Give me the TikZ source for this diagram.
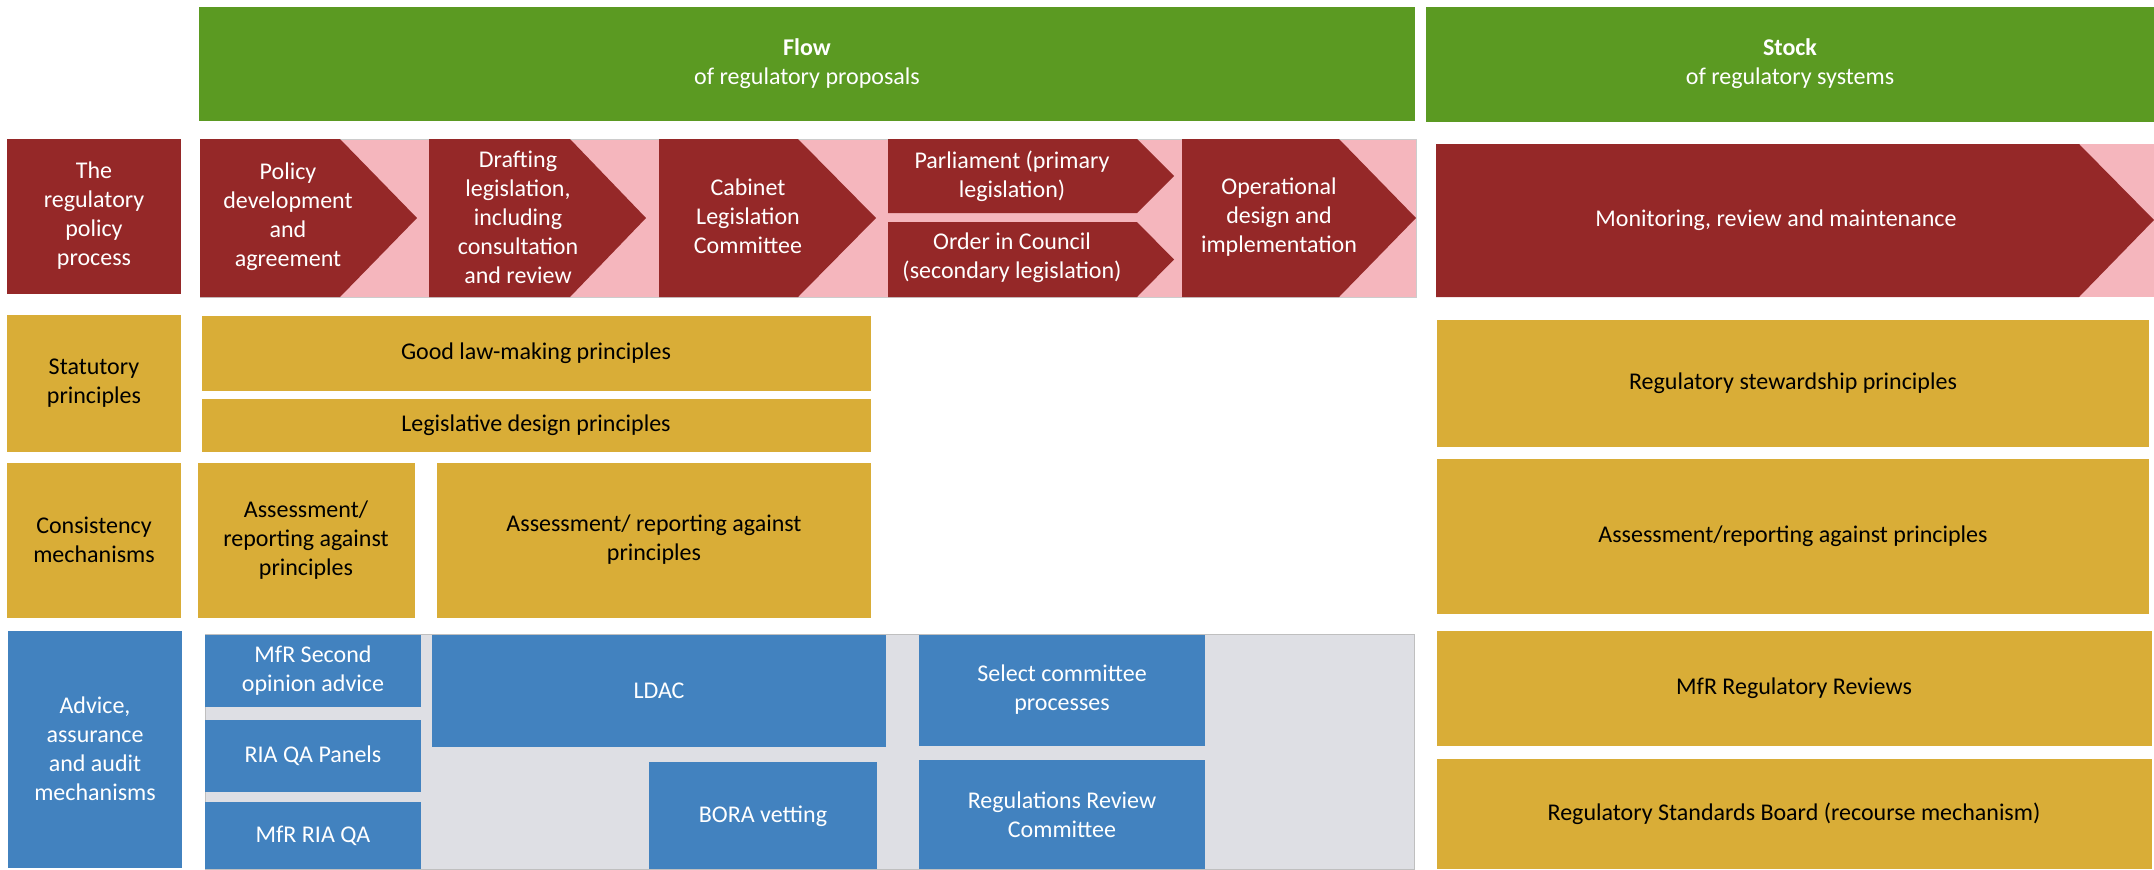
\documentclass[tikz,border=0pt]{standalone}
\usepackage{fontspec}
\setmainfont{Carlito}
\definecolor{flowgreen}{RGB}{91,154,34}
\definecolor{procred}{RGB}{149,40,40}
\definecolor{procpink}{RGB}{245,182,189}
\definecolor{princgold}{RGB}{217,173,55}
\definecolor{advblue}{RGB}{66,130,191}
\definecolor{advgray}{RGB}{222,223,228}
\begin{document}
\begin{tikzpicture}[x=0.5pt,y=-0.5pt,font=\fontsize{12}{14.5}\selectfont,
    light/.style={text=white,align=center},
    dark/.style={text=black,align=center}]

    \useasboundingbox (0,0) rectangle (2154,869);

    % headers
    \fill [color=flowgreen] (199,7) rectangle (1415,121);
    \draw (807,64) node[light] (flow) {\textbf{Flow}\\of regulatory proposals};
    \fill [color=flowgreen] (1426,7) rectangle (2154,122);
    \draw (1790,64) node[light] (stock) {\textbf{Stock}\\of regulatory systems};

    % the regulatory policy process
    \fill [color=procred] (7,139) rectangle (181,294);
    \draw (94,216) node[light] (process) {The\\regulatory\\policy\\process};
    \filldraw [fill=procpink, draw=black!20, line width=0.4pt] (200,139) rectangle (1416,297);
    \fill [color=procred] (200,139)--(340,139)--(417,218)--(340,297)--(200,297)--cycle;
    \draw (288,217) node[light] (policy) {Policy\\development\\and\\agreement};
    \fill [color=procred] (429,139)--(570,139)--(646,218)--(570,297)--(429,297)--cycle;
    \draw (518,217) node[light] (drafting) {Drafting\\legislation,\\including\\consultation\\and review};
    \fill [color=procred] (659,139)--(798,139)--(876,218)--(798,297)--(659,297)--cycle;
    \draw (748,216) node[light] (cabinet) {Cabinet\\Legislation\\Committee};
    \fill [color=procred] (888,139)--(1137,139)--(1174,176)--(1137,213)--(888,213)--cycle;
    \draw (1012,176) node[light] (parliament) {Parliament (primary\\legislation)};
    \fill [color=procred] (888,222)--(1137,222)--(1174,259.5)--(1137,297)--(888,297)--cycle;
    \draw (1012,258) node[light] (council) {Order in Council\\(secondary legislation)};
    \fill [color=procred] (1182,139)--(1339,139)--(1416,218)--(1339,297)--(1182,297)--cycle;
    \draw (1279,217) node[light] (operational) {Operational\\design and\\implementation};
    \fill [color=procpink] (2079,144) rectangle (2154,297);
    \fill [color=procred] (1436,144)--(2079,144)--(2154,220)--(2079,297)--(1436,297)--cycle;
    \draw (1776,220) node[light] (monitoring) {Monitoring, review and maintenance};

    % principles and consistency
    \fill [color=princgold] (7,315) rectangle (181,452);
    \draw (94,383) node[dark] (statutory) {Statutory\\principles};
    \fill [color=princgold] (202,316) rectangle (871,391);
    \draw (536,353) node[dark] (goodlaw) {Good law-making principles};
    \fill [color=princgold] (202,399) rectangle (871,452);
    \draw (536,425) node[dark] (legdesign) {Legislative design principles};
    \fill [color=princgold] (1437,320) rectangle (2149,447);
    \draw (1793,383) node[dark] (stewardship) {Regulatory stewardship principles};
    \fill [color=princgold] (7,463) rectangle (181,618);
    \draw (94,540) node[dark] (consistency) {Consistency\\mechanisms};
    \fill [color=princgold] (198,463) rectangle (415,618);
    \draw (306,540) node[dark] (assesssmall) {Assessment/\\reporting against\\principles};
    \fill [color=princgold] (437,463) rectangle (871,618);
    \draw (654,540) node[dark] (assesswide) {Assessment/ reporting against\\principles};
    \fill [color=princgold] (1437,459) rectangle (2149,614);
    \draw (1793,536) node[dark] (assessstock) {Assessment/reporting against principles};

    % advice, assurance and audit
    \fill [color=advblue] (8,631) rectangle (182,868);
    \draw (95,749) node[light] (advice) {Advice,\\assurance\\and audit\\mechanisms};
    \filldraw [fill=advgray, draw=black!25, line width=0.4pt] (205,634) rectangle (1414,869);
    \fill [color=advblue] (205,635) rectangle (421,707);
    \draw (313,671) node[light] (secondop) {MfR Second\\opinion advice};
    \fill [color=advblue] (205,720) rectangle (421,792);
    \draw (313,756) node[light] (riapanels) {RIA QA Panels};
    \fill [color=advblue] (205,802) rectangle (421,869);
    \draw (313,836) node[light] (riaqa) {MfR RIA QA};
    \fill [color=advblue] (432,635) rectangle (886,747);
    \draw (659,691) node[light] (ldac) {LDAC};
    \fill [color=advblue] (919,635) rectangle (1205,746);
    \draw (1062,690) node[light] (selectcom) {Select committee\\processes};
    \fill [color=advblue] (649,762) rectangle (877,869);
    \draw (763,816) node[light] (bora) {BORA vetting};
    \fill [color=advblue] (919,760) rectangle (1205,869);
    \draw (1062,815) node[light] (regreview) {Regulations Review\\Committee};
    \fill [color=princgold] (1437,631) rectangle (2152,746);
    \draw (1794,688) node[dark] (mfrreviews) {MfR Regulatory Reviews};
    \fill [color=princgold] (1437,759) rectangle (2152,869);
    \draw (1794,814) node[dark] (rsb) {Regulatory Standards Board (recourse mechanism)};

\end{tikzpicture}
\end{document}
